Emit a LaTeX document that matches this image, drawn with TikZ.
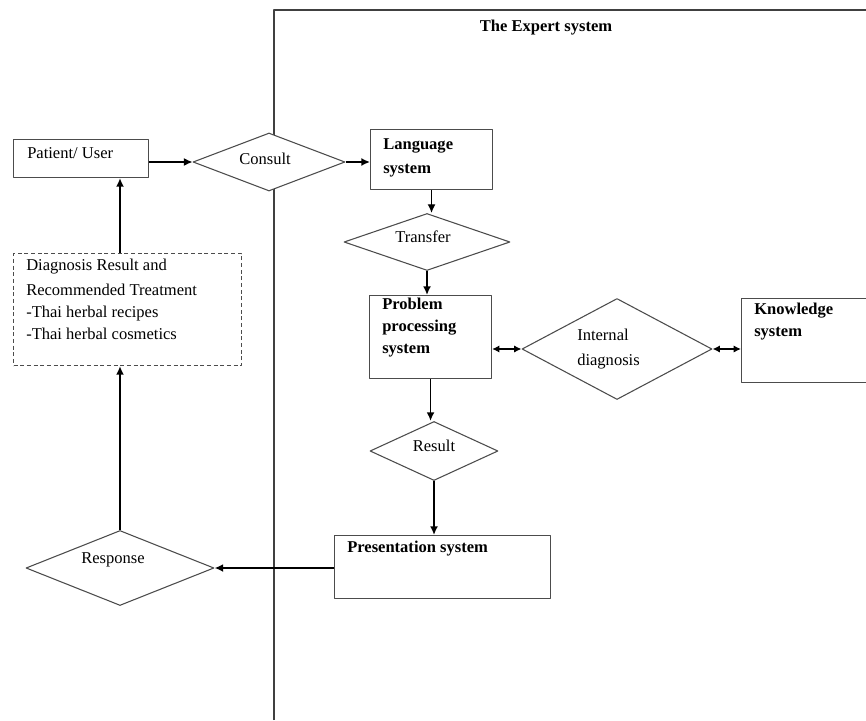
\documentclass[tikz,border=0pt]{standalone}
\usepackage{fontspec}
\setmainfont{Liberation Serif}
\usetikzlibrary{arrows.meta,shapes.geometric}
\def\px{0.75pt}
\tikzset{
	box/.style={draw=black!70,line width=0.8pt,rectangle,inner sep=0pt,anchor=north west},
	dbox/.style={box,dash pattern=on 3pt off 2pt},
	dia/.style={draw=black!70,line width=0.8pt,diamond,aspect=1,inner sep=0pt,fill=white},
	txt/.style={inner sep=0pt,align=left,font=\fontsize{12.4}{16.5}\selectfont},
	btxt/.style={txt,font=\fontsize{12.4}{16.5}\selectfont\bfseries},
	flow/.style={-{Latex[length=6.5pt,width=6pt]},line width=1.3pt},
	both/.style={{Latex[length=5.5pt,width=5.5pt]}-{Latex[length=5.5pt,width=5.5pt]},line width=1.3pt},
}
\begin{document}
\begin{tikzpicture}[x=0.75pt,y=-0.75pt,line join=round]
		\useasboundingbox (0,0) rectangle (866,720);
		\fill[white] (0,0) rectangle (866,720);
		% frame of the expert system
		\draw[black!75,line width=0.9pt] (274,720) -- (274,10) -- (866,10);
		\node[btxt] (title) at (546,28) {The Expert system};
		% boxes and decisions
		\node[box,minimum width=135*\px,minimum height=38*\px] (patient) at (13,139) {};
		\node[txt,anchor=north west] (patientT) at (27,147) {Patient/ User};
		\node[dia,minimum width=152*\px,minimum height=58*\px] (consult) at (269,162) {};
		\node[txt] (consultT) at (265,159) {Consult};
		\node[box,minimum width=122*\px,minimum height=60*\px] (lang) at (370,129) {};
		\node[btxt,anchor=north west] (langT) at (383,138) {Language\\[2pt]system};
		\node[dia,minimum width=166*\px,minimum height=57*\px] (transfer) at (427,242) {};
		\node[txt] (transferT) at (423,237) {Transfer};
		\node[box,minimum width=122*\px,minimum height=83*\px] (prob) at (369,295) {};
		\node[btxt,anchor=north west] (probT) at (382,298) {Problem\\processing\\system};
		\node[dia,minimum width=190*\px,minimum height=101*\px] (internal) at (617,349) {};
		\node[txt,anchor=north west] (internalT) at (577,329) {Internal\\[2pt]diagnosis};
		\node[box,minimum width=125*\px,minimum height=84*\px] (know) at (741,298) {};
		\node[btxt,anchor=north west] (knowT) at (754,303) {Knowledge\\system};
		\node[dia,minimum width=128*\px,minimum height=59*\px] (result) at (434,451) {};
		\node[txt] (resultT) at (434,446) {Result};
		\node[box,minimum width=216*\px,minimum height=63*\px] (pres) at (334,535) {};
		\node[btxt,anchor=north west] (presT) at (347,541) {Presentation system};
		\node[dia,minimum width=188*\px,minimum height=75*\px] (response) at (120,568) {};
		\node[txt] (responseT) at (113,560) {Response};
		\node[dbox,minimum width=228*\px,minimum height=112*\px] (diag) at (13,253) {};
		\node[txt,anchor=north west] (diagT) at (26,259) {Diagnosis Result and\\[2pt]Recommended Treatment\\-Thai herbal recipes\\-Thai herbal cosmetics};
		% connectors
		\draw[flow,line width=0.9pt] (patient.east |- consult.west) -- (consult.west);
		\draw[flow] (consult.east) -- (consult.east -| lang.west);
		\draw[flow,line width=1pt] (lang.south) -- (lang.south |- transfer.north);
		\draw[flow] (transfer.south) -- (transfer.south |- prob.north);
		\draw[both] (prob.east |- internal.west) -- (internal.west);
		\draw[both] (internal.east) -- (internal.east -| know.west);
		\draw[flow] (prob.south) -- (prob.south |- result.north);
		\draw[flow] (result.south) -- (result.south |- pres.north);
		\draw[flow] (pres.west |- response.east) -- (response.east);
		\draw[flow] (response.north) -- (response.north |- diag.south);
		\draw[flow] (diag.north -| response.north) -- (response.north |- patient.south);
\end{tikzpicture}
\end{document}
